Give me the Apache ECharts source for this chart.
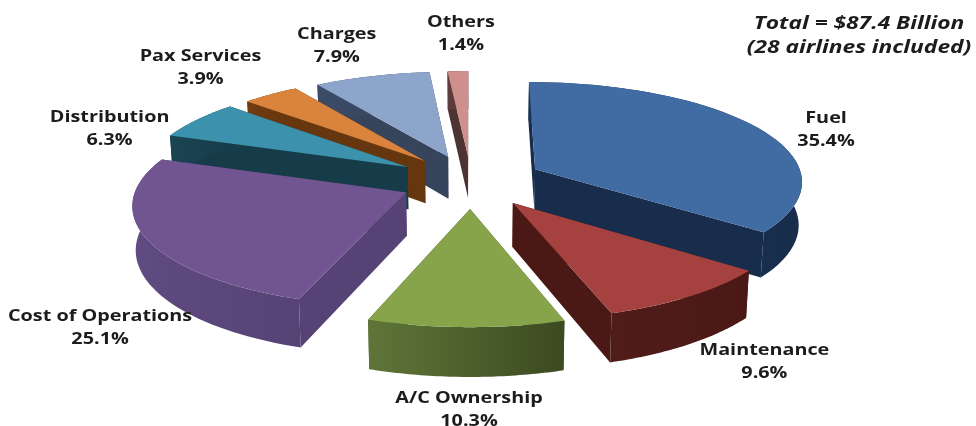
<!DOCTYPE html>
<html>
<head>
<meta charset="utf-8">
<style>html,body{margin:0;padding:0;background:#fff}#main{width:976px;height:426px}</style>
<script src="https://cdn.jsdelivr.net/npm/echarts@6/dist/echarts.min.js"></script>
</head>
<body>
<div id="main"></div>
<script>
// Airline operating cost breakdown, shares in percent, clockwise from twelve o'clock.
var categories = ['Fuel', 'Maintenance', 'A/C Ownership', 'Cost of Operations', 'Distribution', 'Pax Services', 'Charges', 'Others'];
var shares = [35.4, 9.6, 10.3, 25.1, 6.3, 3.9, 7.9, 1.4];
var totalNote = ['Total = $87.4 Billion', '(28 airlines included)'];

// Slice colours: top face, then the two ends of the side wall shading.
var topColors = ['#406ba3', '#a5413e', '#87a44b', '#715590', '#3c92ad', '#d9833c', '#8da4cb', '#cf8f8d'];
var wallLeft = ['#1b3558', '#501c19', '#5f7538', '#604b82', '#1a4453', '#703c10', '#3c4b66', '#5e3d3d'];
var wallRight = ['#182d4c', '#4a1916', '#3b4a20', '#564274', '#173c49', '#66360e', '#36445c', '#4e3333'];

// How far each slice is pulled out of the pie, in pie radii.
var explodeBy = [0.27, 0.265, 0.275, 0.265, 0.28, 0.27, 0.265, 0.26];

// Label offset from the outer-arc midpoint of each slice, in pixels.
var labelOffsets = [[67, 1], [74, 66], [3, 83], [-46, 90], [-87, 9], [-70, -27], [-35, -30], [3, -37]];

// Perspective view of the tilted pie.
var view = { cx: 471, cy: 181, rx: 268, ry: 99, tilt: 0.107, depth: 43, taper: 0.99 };
var ARC_STEPS = 48;
var LABEL_STRETCH = 1.2;
var NOTE_STRETCH = 1.23;

var total = shares.reduce(function (a, b) { return a + b; }, 0);
var slices = [];
shares.reduce(function (start, v, i) {
  var sweep = v / total * Math.PI * 2;
  var mid = start + sweep / 2;
  slices.push({
    start: start,
    end: start + sweep,
    mid: mid,
    ou: explodeBy[i] * Math.sin(mid),
    ov: -explodeBy[i] * Math.cos(mid)
  });
  return start + sweep;
}, 0);

// Plane coordinates to pixels; lifted=false gives the underside of the slab.
function project(u, v, lifted) {
  var w = 1 - view.tilt * v;
  var x = view.rx * u / w;
  var y = view.ry * v / w;
  if (lifted) return [view.cx + x, view.cy + y];
  return [view.cx + x * view.taper, view.cy + y + view.depth / w];
}
function rimPoint(s, angle, lifted) {
  return project(s.ou + Math.sin(angle), s.ov - Math.cos(angle), lifted);
}
function arc(s, lifted) {
  var pts = [];
  for (var k = 0; k <= ARC_STEPS; k++) {
    pts.push(rimPoint(s, s.start + (s.end - s.start) * k / ARC_STEPS, lifted));
  }
  return pts;
}
function poly(points, fill, z2) {
  return { type: 'polygon', z2: z2, shape: { points: points }, style: { fill: fill } };
}

function renderSlice(params, api) {
  var i = api.value(0);
  var s = slices[i];
  var rank = params.dataIndex * 10;
  var top = arc(s, true);
  var under = arc(s, false);
  var apexTop = project(s.ou, s.ov, true);
  var apexUnder = project(s.ou, s.ov, false);
  var wallFill = new echarts.graphic.LinearGradient(0, 0, 1, 0, [
    { offset: 0, color: wallLeft[i] },
    { offset: 1, color: wallRight[i] }
  ]);
  var last = ARC_STEPS;
  return {
    type: 'group',
    children: [
      poly([apexTop, top[0], under[0], apexUnder], wallRight[i], rank + 1),
      poly([apexTop, top[last], under[last], apexUnder], wallRight[i], rank + 1),
      poly(top.concat(under.slice().reverse()), wallFill, rank + 2),
      poly([apexTop].concat(top), topColors[i], rank + 3)
    ]
  };
}

function renderLabel(params, api) {
  var i = api.value(0);
  var s = slices[i];
  var anchor = rimPoint(s, s.mid, true);
  return {
    type: 'text',
    z2: 200,
    x: anchor[0] + labelOffsets[i][0],
    y: anchor[1] + labelOffsets[i][1],
    scaleX: LABEL_STRETCH,
    style: {
      text: categories[i] + '\n' + shares[i].toFixed(1) + '%',
      x: 0,
      y: 0,
      align: 'center',
      verticalAlign: 'middle',
      fill: '#1c1c1c',
      font: 'bold 16.5px "Open Sans"',
      lineHeight: 23
    }
  };
}

// Paint the slices farthest from the viewer first.
var paintOrder = categories.map(function (_, i) { return i; }).sort(function (a, b) {
  return slices[a].ov - slices[b].ov;
});

var chart = echarts.init(document.getElementById('main'), null, { renderer: 'canvas' });
chart.setOption({
  animation: false,
  backgroundColor: '#ffffff',
  graphic: [{
    type: 'text',
    z: 10,
    x: 859,
    y: 36,
    scaleX: NOTE_STRETCH,
    style: {
      text: totalNote.join('\n'),
      x: 0,
      y: 0,
      align: 'center',
      verticalAlign: 'middle',
      fill: '#1c1c1c',
      font: 'italic bold 18.5px "Open Sans"',
      lineHeight: 24
    }
  }],
  series: [
    { type: 'custom', coordinateSystem: 'none', silent: true, z: 2, data: paintOrder, renderItem: renderSlice },
    { type: 'custom', coordinateSystem: 'none', silent: true, z: 5, data: paintOrder, renderItem: renderLabel }
  ]
});
</script>
</body>
</html>
